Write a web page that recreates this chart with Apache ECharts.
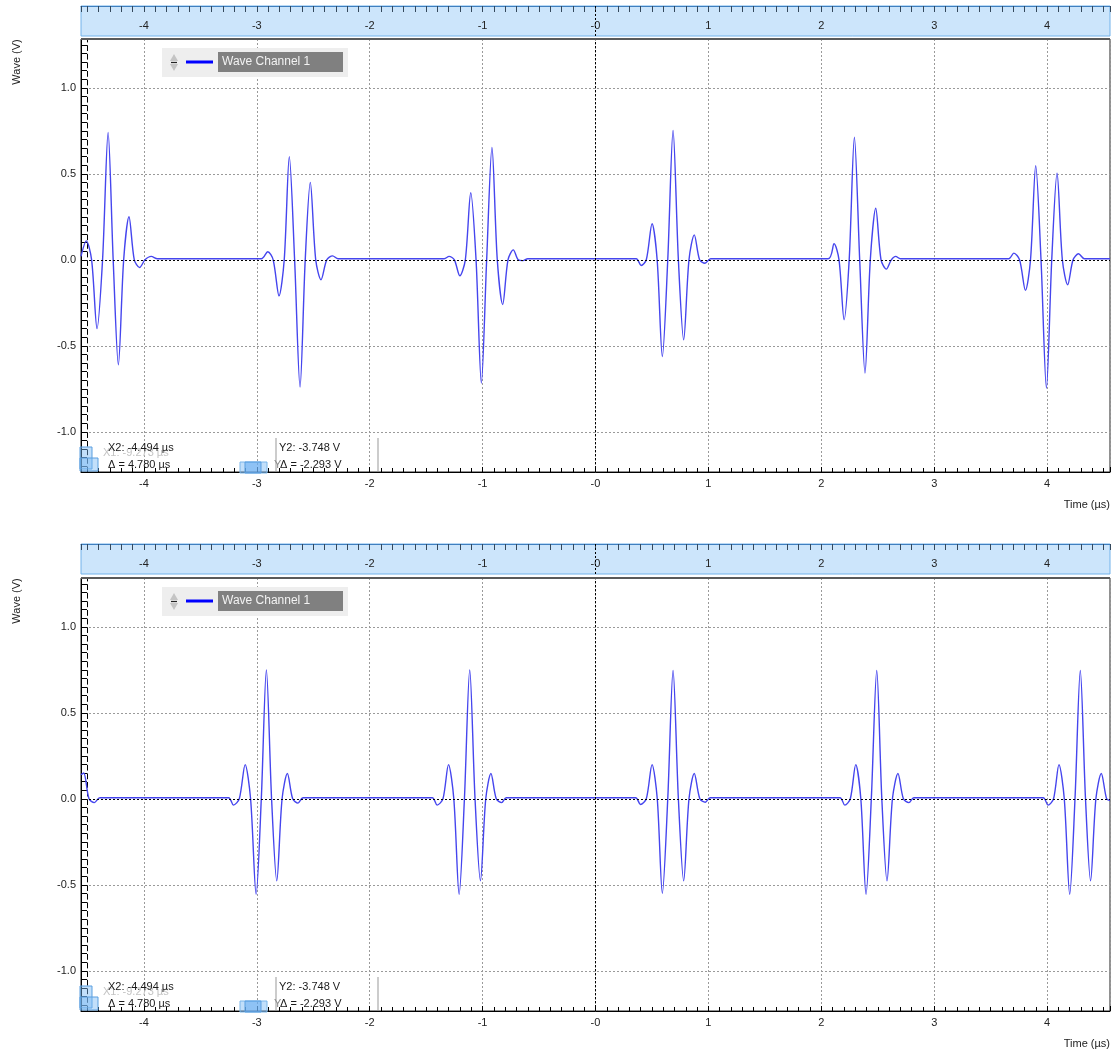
<!DOCTYPE html>
<html>
<head>
<meta charset="utf-8">
<script src="https://cdn.jsdelivr.net/npm/echarts@6/dist/echarts.min.js"></script>
<style>
html,body{margin:0;padding:0;background:#fff;}
#chart{width:1117px;height:1050px;}
</style>
</head>
<body>
<div id="chart"></div>
<script>
// ---------- data ----------
const X_MIN = -4.557, X_MAX = 4.557;
const Y_MIN = -1.234, Y_MAX = 1.284;
const seriesName = 'Wave Channel 1';
const xAxisTitle = 'Time (µs)';
const yAxisTitle = 'Wave (V)';

// upper panel (µs / V)
const topTime = [
  -4.557, -4.51, -4.463, -4.415, -4.366, -4.317, -4.272, -4.226, -4.179, -4.132, -4.085, -4.038, -3.99, -3.935, -3.88,
  -2.96, -2.903, -2.855, -2.803, -2.757, -2.712, -2.665, -2.617, -2.571, -2.526, -2.478, -2.431, -2.38, -2.328, -2.28,
  -1.34, -1.297, -1.25, -1.202, -1.153, -1.105, -1.058, -1.011, -0.964, -0.917, -0.87, -0.822, -0.775, -0.728, -0.685, -0.643, -0.6,
  0.36, 0.404, 0.45, 0.501, 0.546, 0.592, 0.64, 0.687, 0.734, 0.781, 0.828, 0.875, 0.922, 0.97, 1.02,
  2.06, 2.113, 2.157, 2.202, 2.247, 2.293, 2.34, 2.387, 2.434, 2.482, 2.529, 2.576, 2.62, 2.659, 2.7,
  3.66, 3.705, 3.756, 3.808, 3.853, 3.899, 3.946, 3.994, 4.041, 4.088, 4.135, 4.182, 4.23, 4.279, 4.33, 4.557
];
const topVolt = [
  0.02, 0.11, 0, -0.40, 0, 0.74, 0, -0.61, 0, 0.25, 0, -0.045, 0, 0.02, 0.006,
  0.006, 0.047, 0, -0.21, 0, 0.60, 0, -0.74, 0, 0.45, 0, -0.116, 0, 0.023, 0.006,
  0.006, 0.02, 0, -0.093, 0, 0.39, 0, -0.717, 0, 0.653, 0, -0.26, 0, 0.058, 0, -0.005, 0.006,
  0.006, -0.033, 0, 0.21, 0, -0.562, 0, 0.752, 0, -0.465, 0, 0.145, 0, -0.02, 0.006,
  0.006, 0.093, 0, -0.349, 0, 0.713, 0, -0.659, 0, 0.30, 0, -0.054, 0, 0.02, 0.006,
  0.006, 0.039, 0, -0.178, 0, 0.547, 0, -0.746, 0, 0.504, 0, -0.145, 0, 0.035, 0.006, 0.006
];

// lower panel (µs / V)
const bottomTime = [
  -4.557, -4.533, -4.486, -4.439, -4.39,
  -3.25, -3.207, -3.155, -3.103, -3.055, -3.006, -2.96, -2.915, -2.869, -2.823, -2.776, -2.729, -2.682, -2.635, -2.59,
  -1.446, -1.403, -1.351, -1.302, -1.255, -1.208, -1.161, -1.114, -1.067, -1.019, -0.972, -0.926, -0.879, -0.831, -0.79,
  0.355, 0.398, 0.45, 0.501, 0.547, 0.592, 0.64, 0.687, 0.734, 0.781, 0.828, 0.875, 0.924, 0.973, 1.015,
  2.165, 2.208, 2.257, 2.305, 2.35, 2.396, 2.443, 2.491, 2.536, 2.582, 2.63, 2.679, 2.727, 2.776, 2.82,
  3.965, 4.008, 4.057, 4.105, 4.152, 4.2, 4.247, 4.294, 4.34, 4.385, 4.432, 4.48, 4.527, 4.557
];
const bottomVolt = [
  0.14, 0.15, 0, -0.022, 0.006,
  0.006, -0.037, 0, 0.199, 0, -0.555, 0, 0.75, 0, -0.477, 0, 0.147, 0, -0.025, 0.006,
  0.006, -0.037, 0, 0.199, 0, -0.555, 0, 0.75, 0, -0.477, 0, 0.147, 0, -0.022, 0.006,
  0.006, -0.033, 0, 0.199, 0, -0.549, 0, 0.746, 0, -0.477, 0, 0.147, 0, -0.02, 0.006,
  0.006, -0.037, 0, 0.199, 0, -0.555, 0, 0.746, 0, -0.477, 0, 0.147, 0, -0.022, 0.006,
  0.006, -0.037, 0, 0.199, 0, -0.555, 0, 0.746, 0, -0.477, 0, 0.147, 0, -0.01
];

// cursor read-outs shown in each panel
const cursorX1 = 'X1: -9.273 µs';
const cursorX2 = 'X2: -4.494 µs';
const cursorDX = 'Δ = 4.780 µs';
const cursorY2 = 'Y2: -3.748 V';
const cursorDY = 'Δ = -2.293 V';

// ---------- chart ----------
const FONT = 'Liberation Sans, Arial, Helvetica, sans-serif';
const chart = echarts.init(document.getElementById('chart'), null, {renderer: 'canvas'});

const fmtX = v => (Math.abs(v) < 1e-9 ? '-0' : String(Math.round(v)));
const fmtY = v => v.toFixed(1);

const PANEL_TOPS = [39, 578];
const RULER_TOPS = [6, 544];
const GRID_LEFT = 81, GRID_W = 1029, GRID_H = 433, RULER_H = 30;

const grids = [], xAxes = [], yAxes = [], series = [], legends = [];
const panelData = [
  topTime.map((t, i) => [t, topVolt[i]]),
  bottomTime.map((t, i) => [t, bottomVolt[i]])
];

PANEL_TOPS.forEach((top, p) => {
  const gMain = grids.length;
  grids.push({left: GRID_LEFT, top: top, width: GRID_W, height: GRID_H, show: true,
    backgroundColor: '#fff', borderColor: '#222', borderWidth: 1});
  const gRuler = grids.length;
  grids.push({left: GRID_LEFT, top: RULER_TOPS[p], width: GRID_W, height: RULER_H, show: true,
    backgroundColor: '#cce5fb', borderColor: '#72b2ea', borderWidth: 1});

  const xMain = xAxes.length;
  xAxes.push({
    type: 'value', gridIndex: gMain, min: X_MIN, max: X_MAX, splitNumber: 9, position: 'bottom',
    axisLine: {show: true, onZero: false, lineStyle: {color: '#000', width: 1}},
    axisTick: {show: true, inside: true, length: 5, lineStyle: {color: '#000'}},
    minorTick: {show: true, splitNumber: 10, length: 4, lineStyle: {color: '#000'}},
    axisLabel: {show: true, margin: 6, fontSize: 11, color: '#222', fontFamily: FONT,
      showMinLabel: false, showMaxLabel: false, formatter: fmtX},
    splitLine: {show: true, lineStyle: {color: '#9a9a9a', width: 1, type: [2, 2]}}
  });
  xAxes.push({
    type: 'value', gridIndex: gRuler, min: X_MIN, max: X_MAX, splitNumber: 9, position: 'top',
    axisLine: {show: true, onZero: false, lineStyle: {color: '#3f7fbf', width: 1}},
    axisTick: {show: true, inside: true, length: 6, lineStyle: {color: '#34485c'}},
    minorTick: {show: true, splitNumber: 10, length: 6, lineStyle: {color: '#34485c'}},
    axisLabel: {show: true, inside: true, margin: 14, fontSize: 11, color: '#222', fontFamily: FONT,
      showMinLabel: false, showMaxLabel: false, formatter: fmtX},
    splitLine: {show: false}
  });

  const yMain = yAxes.length;
  yAxes.push({
    type: 'value', gridIndex: gMain, min: Y_MIN, max: Y_MAX, splitNumber: 5, position: 'left',
    axisLine: {show: true, onZero: false, lineStyle: {color: '#000', width: 1}},
    axisTick: {show: true, inside: true, length: 6, lineStyle: {color: '#000'}},
    minorTick: {show: true, splitNumber: 10, length: 6, lineStyle: {color: '#000'}},
    axisLabel: {show: true, margin: 5, fontSize: 11, color: '#222', fontFamily: FONT,
      showMinLabel: false, showMaxLabel: false, formatter: fmtY},
    splitLine: {show: true, lineStyle: {color: '#9a9a9a', width: 1, type: [2, 2]}}
  });
  // inner rail of the ladder-style scale
  yAxes.push({
    type: 'value', gridIndex: gMain, min: Y_MIN, max: Y_MAX, position: 'left', offset: -6,
    axisLine: {show: true, onZero: false, lineStyle: {color: '#000', width: 1, type: [5, 3.6]}},
    axisTick: {show: false}, axisLabel: {show: false}, splitLine: {show: false}
  });
  yAxes.push({type: 'value', gridIndex: gRuler, min: 0, max: 1, show: false});

  series.push({
    name: seriesName, type: 'line', xAxisIndex: xMain, yAxisIndex: yMain,
    data: panelData[p], showSymbol: false, symbol: 'none', smooth: 0.3,
    lineStyle: {color: '#4545ee', width: 1.4}, itemStyle: {color: '#0000ff'},
    animation: false, silent: true, z: 3,
    markLine: {
      silent: true, symbol: 'none', animation: false,
      label: {show: false},
      lineStyle: {color: '#000', width: 1, type: [2, 2]},
      data: [{xAxis: 0}, {yAxis: 0}]
    }
  });

  legends.push({
    data: [seriesName], left: 162, top: top + 9, orient: 'horizontal',
    backgroundColor: '#eeeeee', padding: [4, 5, 5, 24], selectedMode: false,
    icon: 'rect', itemWidth: 27, itemHeight: 3, itemStyle: {color: '#0000ff'},
    textStyle: {color: '#f2f2f2', fontSize: 12, fontFamily: FONT, backgroundColor: '#808080',
      padding: [4, 4, 4, 4], width: 117, lineHeight: 12}
  });
});

chart.setOption({
  animation: false,
  backgroundColor: '#ffffff',
  textStyle: {fontFamily: FONT},
  grid: grids, xAxis: xAxes, yAxis: yAxes, series: series, legend: legends
});

// ---------- decorations (labels, cursor read-outs, legend arrows) ----------
const graphics = [];
PANEL_TOPS.forEach((top, p) => {
  const dy = top - PANEL_TOPS[0];
  const bottom = top + GRID_H;
  // heavier top edge of the plot frame
  graphics.push({type: 'line', silent: true, z: 50,
    shape: {x1: GRID_LEFT, y1: top, x2: GRID_LEFT + GRID_W, y2: top},
    style: {stroke: '#5a5a5a', lineWidth: 2}});
  // zero line through the ruler
  const x0 = chart.convertToPixel({xAxisIndex: p * 2 + 1}, 0);
  graphics.push({type: 'line', silent: true, z: 50,
    shape: {x1: x0, y1: RULER_TOPS[p], x2: x0, y2: RULER_TOPS[p] + RULER_H},
    style: {stroke: '#000', lineWidth: 1, lineDash: [2, 2]}});
  // axis titles
  graphics.push({type: 'text', silent: true, x: 17, y: top + 23, rotation: Math.PI / 2,
    style: {text: yAxisTitle, fontSize: 11, fontFamily: FONT, fill: '#222', align: 'center', verticalAlign: 'middle'}});
  graphics.push({type: 'text', silent: true, x: 1110, y: bottom + 33,
    style: {text: xAxisTitle, fontSize: 11, fontFamily: FONT, fill: '#222', align: 'right', verticalAlign: 'middle'}});
  // legend up/down arrows
  graphics.push({type: 'polygon', silent: true, z: 60,
    shape: {points: [[170, 61 + dy], [174, 54 + dy], [178, 61 + dy]]}, style: {fill: '#c4c4c4'}});
  graphics.push({type: 'polygon', silent: true, z: 60,
    shape: {points: [[170, 64 + dy], [178, 64 + dy], [174, 71 + dy]]}, style: {fill: '#c4c4c4'}});
  graphics.push({type: 'line', silent: true, z: 61,
    shape: {x1: 171, y1: 62.5 + dy, x2: 177, y2: 62.5 + dy}, style: {stroke: '#222', lineWidth: 1.2}});
  // cursor markers
  graphics.push({type: 'rect', silent: true, z: 40,
    shape: {x: 80, y: 447 + dy, width: 12, height: 22}, style: {fill: 'rgba(120,185,245,0.45)', stroke: '#5a9fe0', lineWidth: 1}});
  graphics.push({type: 'rect', silent: true, z: 40,
    shape: {x: 80, y: 458 + dy, width: 18, height: 13}, style: {fill: 'rgba(120,185,245,0.45)', stroke: '#5a9fe0', lineWidth: 1}});
  graphics.push({type: 'rect', silent: true, z: 40,
    shape: {x: 240, y: 462 + dy, width: 27, height: 11}, style: {fill: 'rgba(120,185,245,0.45)', stroke: '#7ab6ea', lineWidth: 1}});
  graphics.push({type: 'rect', silent: true, z: 40,
    shape: {x: 245, y: 462 + dy, width: 16, height: 11}, style: {fill: 'rgba(100,170,240,0.55)', stroke: '#5a9fe0', lineWidth: 1}});
  graphics.push({type: 'line', silent: true, z: 40,
    shape: {x1: 276, y1: 438 + dy, x2: 276, y2: 471 + dy}, style: {stroke: '#cccccc', lineWidth: 2}});
  graphics.push({type: 'line', silent: true, z: 40,
    shape: {x1: 378, y1: 438 + dy, x2: 378, y2: 471 + dy}, style: {stroke: '#cccccc', lineWidth: 2}});
  // read-out texts
  const txt = (s, x, y, fill) => graphics.push({type: 'text', silent: true, z: 45, x: x, y: y + dy,
    style: {text: s, fontSize: 11, fontFamily: FONT, fill: fill, align: 'left', verticalAlign: 'middle'}});
  txt(cursorX1, 103, 453, '#c4c4c4');
  txt(cursorX2, 108, 448, '#1a1a1a');
  txt(cursorDX, 108, 465, '#1a1a1a');
  txt('Y', 274, 465, '#8a8a8a');
  txt(cursorY2, 279, 448, '#1a1a1a');
  txt(cursorDY, 280, 465, '#1a1a1a');
});
chart.setOption({graphic: graphics});
</script>
</body>
</html>
